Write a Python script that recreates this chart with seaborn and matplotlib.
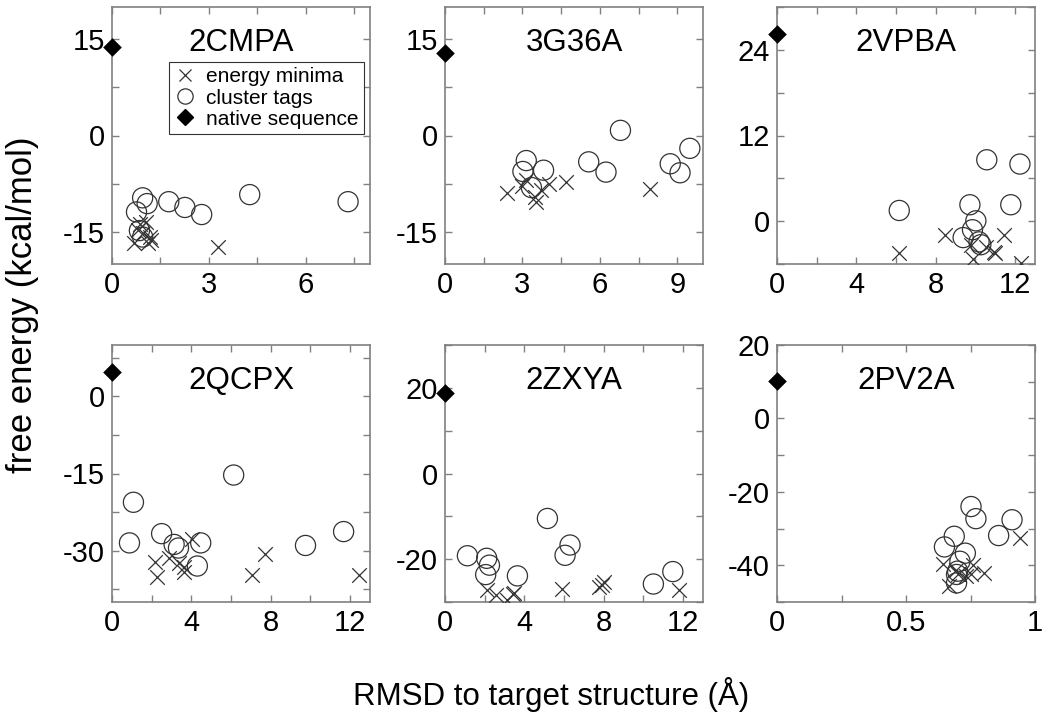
import matplotlib
matplotlib.use("Agg")
import matplotlib.pyplot as plt
from matplotlib.ticker import MultipleLocator, FuncFormatter
from matplotlib.lines import Line2D
import seaborn as sns

# panel names
panels = ["2CMPA", "3G36A", "2VPBA", "2QCPX", "2ZXYA", "2PV2A"]

# 2CMPA
cmpa_min_x = [0.68, 0.86, 1.05, 0.81, 0.95, 1.17, 1.22, 1.12, 3.29]
cmpa_min_y = [-16.7, -13.8, -13.5, -14.7, -15.2, -15.8, -16.3, -16.8, -17.3]
cmpa_tag_x = [0.76, 0.95, 1.09, 1.76, 2.26, 2.78, 4.27, 7.32, 0.85, 0.95]
cmpa_tag_y = [-11.9, -9.7, -10.6, -10.3, -11.2, -12.3, -9.2, -10.3, -14.8, -15.8]
cmpa_native = 13.7

# 3G36A
g36_min_x = [2.41, 3.0, 3.15, 3.47, 3.54, 3.73, 4.03, 4.70, 7.95]
g36_min_y = [-8.9, -7.8, -7.0, -9.6, -10.3, -8.5, -7.6, -7.2, -8.3]
g36_tag_x = [3.15, 3.02, 3.82, 3.35, 5.57, 6.24, 6.80, 8.73, 9.11, 9.49]
g36_tag_y = [-3.9, -5.6, -5.4, -8.1, -4.1, -5.7, 0.8, -4.4, -5.8, -2.0]
g36_native = 12.9

# 2VPBA
vpba_min_x = [6.13, 8.46, 9.80, 9.88, 10.52, 10.94, 11.0, 11.44, 12.31]
vpba_min_y = [-4.5, -2.0, -3.3, -5.3, -3.6, -4.3, -4.5, -2.0, -5.9]
vpba_tag_x = [6.16, 10.57, 12.24, 9.72, 11.78, 10.02, 9.85, 9.38, 10.18, 10.27]
vpba_tag_y = [1.5, 8.6, 8.0, 2.3, 2.3, 0.05, -1.2, -2.3, -2.9, -3.3]
vpba_native = 26.2

# 2QCPX
qcpx_min_x = [2.18, 2.27, 2.88, 3.38, 3.63, 3.63, 4.05, 7.05, 7.72, 12.43]
qcpx_min_y = [-32.2, -35.1, -31.5, -32.5, -33.2, -34.1, -27.7, -34.8, -30.6, -34.8]
qcpx_tag_x = [1.08, 0.88, 2.5, 3.13, 3.35, 4.47, 4.3, 6.13, 9.75, 11.67]
qcpx_tag_y = [-20.6, -28.5, -26.7, -28.8, -29.5, -28.5, -33.0, -15.3, -29.0, -26.3]
qcpx_native = 4.7

# 2ZXYA
zxya_min_x = [2.1, 2.57, 3.14, 3.41, 3.5, 5.88, 7.78, 8.03, 7.9, 11.8]
zxya_min_y = [-27.1, -28.4, -29.5, -28.1, -27.8, -27.0, -26.4, -25.3, -26.0, -27.1]
zxya_tag_x = [1.13, 2.1, 2.24, 2.05, 3.65, 5.16, 6.05, 6.3, 10.5, 11.48]
zxya_tag_y = [-19.2, -19.8, -21.4, -23.6, -23.9, -10.5, -19.1, -16.7, -25.8, -22.9]
zxya_native = 18.8

# 2PV2A
pv2a_min_x = [0.943, 0.645, 0.668, 0.70, 0.758, 0.752, 0.804, 0.694, 0.733]
pv2a_min_y = [-32.6, -39.6, -45.7, -42.5, -39.8, -42.5, -42.1, -41.2, -43.0]
pv2a_tag_x = [0.752, 0.771, 0.911, 0.859, 0.687, 0.649, 0.730, 0.709, 0.696, 0.696, 0.70]
pv2a_tag_y = [-24.0, -27.3, -27.6, -31.9, -32.1, -35.0, -36.7, -38.9, -42.5, -44.8, -41.6]
pv2a_native = 10.2

minima = [(cmpa_min_x, cmpa_min_y), (g36_min_x, g36_min_y), (vpba_min_x, vpba_min_y),
          (qcpx_min_x, qcpx_min_y), (zxya_min_x, zxya_min_y), (pv2a_min_x, pv2a_min_y)]
tags = [(cmpa_tag_x, cmpa_tag_y), (g36_tag_x, g36_tag_y), (vpba_tag_x, vpba_tag_y),
        (qcpx_tag_x, qcpx_tag_y), (zxya_tag_x, zxya_tag_y), (pv2a_tag_x, pv2a_tag_y)]
natives = [cmpa_native, g36_native, vpba_native, qcpx_native, zxya_native, pv2a_native]

# axis settings: xlim, x major step, ylim, y major step
limits = [((0, 8), 3, (-20, 20), 15),
          ((0, 10), 3, (-20, 20), 15),
          ((0, 13), 4, (-6, 30), 12),
          ((0, 13), 4, (-40, 10), 15),
          ((0, 13), 4, (-30, 30), 20),
          ((0, 1), 0.5, (-50, 20), 20)]

sns.set_style("ticks")
plt.rcParams['font.family'] = ['Liberation Sans', 'DejaVu Sans']
plt.rcParams['text.color'] = 'black'
plt.rcParams['xtick.labelcolor'] = 'black'
plt.rcParams['ytick.labelcolor'] = 'black'

fig = plt.figure(figsize=(10.5, 7.26), dpi=100)
lefts = [112, 445, 777]
tops = [7, 345]
w, h = 258, 257

gray = "#808080"
ink = "#333333"
fmt = FuncFormatter(lambda v, p: f"{v:g}")

for i, name in enumerate(panels):
    r, c = divmod(i, 3)
    ax = fig.add_axes([lefts[c] / 1050, 1 - (tops[r] + h) / 726, w / 1050, h / 726])
    mx, my = minima[i]
    tx, ty = tags[i]
    sns.scatterplot(x=mx, y=my, marker='x', s=110, color=ink, linewidth=0.9, ax=ax, zorder=3)
    sns.scatterplot(x=tx, y=ty, marker='o', s=210, facecolor='none', edgecolor=ink,
                    linewidth=0.9, ax=ax, zorder=3)
    sns.scatterplot(x=[0], y=[natives[i]], marker='D', s=90, color='black', linewidth=0,
                    ax=ax, zorder=4, clip_on=False)

    xl, xmaj, yl, ymaj = limits[i]
    ax.set_xlim(xl)
    ax.set_ylim(yl)
    ax.xaxis.set_major_locator(MultipleLocator(xmaj))
    ax.xaxis.set_minor_locator(MultipleLocator(xmaj / 2))
    ax.yaxis.set_major_locator(MultipleLocator(ymaj))
    ax.yaxis.set_minor_locator(MultipleLocator(ymaj / 2))
    ax.tick_params(which='both', direction='in', top=True, right=True, length=5,
                   width=1, color=gray, labelsize=21, pad=5)
    ax.xaxis.set_major_formatter(fmt)
    ax.yaxis.set_major_formatter(fmt)
    for sp in ax.spines.values():
        sp.set_color(gray)
        sp.set_linewidth(1.2)
    ax.text(0.5, 0.86, name, transform=ax.transAxes, ha='center', va='center', fontsize=22.5)

    if i == 0:
        handles = [Line2D([], [], marker='x', ls='none', color=ink, markersize=9, mew=0.9),
                   Line2D([], [], marker='o', ls='none', mfc='none', mec=ink, markersize=11, mew=0.9),
                   Line2D([], [], marker='D', ls='none', color='black', markersize=8)]
        leg = ax.legend(handles, ["energy minima", "cluster tags", "native sequence"],
                        loc='upper right', bbox_to_anchor=(0.975, 0.785), fontsize=15,
                        frameon=True, fancybox=False, handlelength=1.0, handletextpad=0.5,
                        borderpad=0.25, labelspacing=0.1, borderaxespad=0)
        leg.get_frame().set_edgecolor(ink)
        leg.get_frame().set_linewidth(0.8)
        leg.get_frame().set_alpha(1)

fig.text(0.021, 0.58, "free energy (kcal/mol)", rotation=90, ha='center', va='center', fontsize=25)
fig.text(0.525, 0.043, "RMSD to target structure (Å)", ha='center', va='center', fontsize=22.5)

fig.savefig("out.png", dpi=100)
